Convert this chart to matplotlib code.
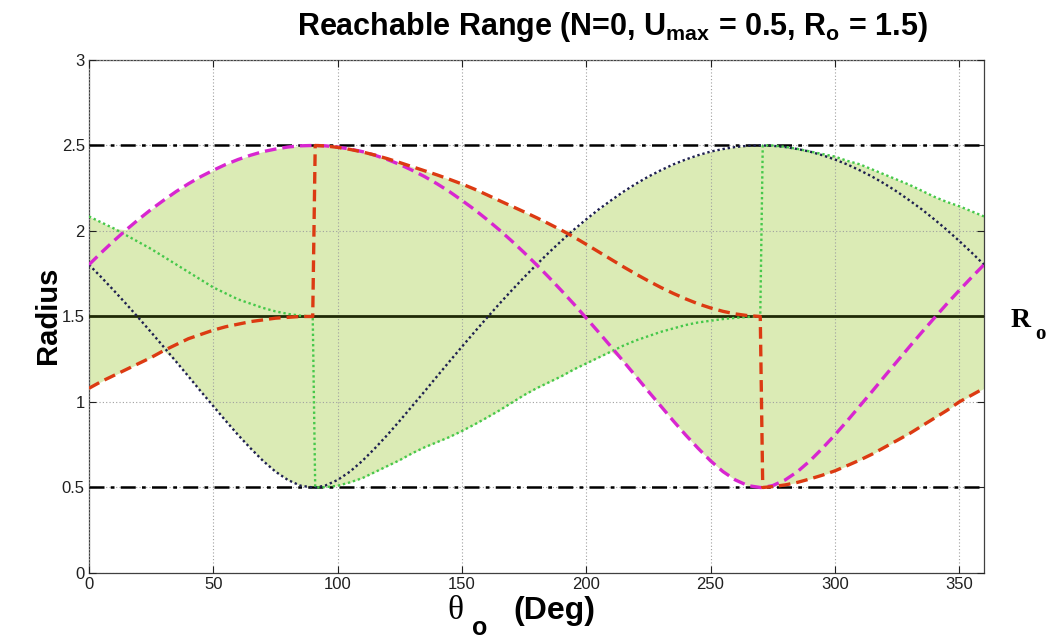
import numpy as np
import matplotlib
matplotlib.use("Agg")
import matplotlib.pyplot as plt

# ---------------- data ----------------
theta_deg = [0, 5, 10, 15, 20, 25, 30, 35, 40, 45, 50, 55, 60, 65, 70, 75, 80, 85, 90,
             91,
             95, 100, 105, 110, 115, 120, 125, 130, 135, 140, 145, 150, 155, 160, 165, 170, 175, 180,
             185, 190, 195, 200, 205, 210, 215, 220, 225, 230, 235, 240, 245, 250, 255, 260, 265, 270,
             271,
             275, 280, 285, 290, 295, 300, 305, 310, 315, 320, 325, 330, 335, 340, 345, 350, 355, 360]

magenta_r = [1.803, 1.874, 1.942, 2.007, 2.068, 2.126, 2.179, 2.230, 2.276, 2.318, 2.355, 2.389, 2.418, 2.443, 2.464, 2.479, 2.491, 2.498, 2.500,
             2.500,
             2.498, 2.491, 2.479, 2.464, 2.443, 2.418, 2.389, 2.355, 2.318, 2.276,
             2.230, 2.179, 2.126, 2.068, 2.007, 1.942, 1.874, 1.803, 1.729, 1.652,
             1.573, 1.491, 1.408, 1.323, 1.237, 1.150, 1.062, 0.976, 0.890, 0.807,
             0.729, 0.656, 0.593, 0.544, 0.511, 0.500,
             0.500,
             0.511, 0.544, 0.593, 0.656, 0.729, 0.807, 0.890, 0.976, 1.062,
             1.150, 1.237, 1.323, 1.408, 1.491, 1.573, 1.652, 1.729, 1.803]

blue_r = [1.803, 1.729, 1.652, 1.573, 1.491, 1.408, 1.323, 1.237, 1.150, 1.062, 0.976, 0.890, 0.807, 0.729, 0.656, 0.593, 0.544, 0.511, 0.500,
          0.500,
          0.511, 0.544, 0.593, 0.656, 0.729, 0.807, 0.890, 0.976, 1.062, 1.150,
          1.237, 1.323, 1.408, 1.491, 1.573, 1.652, 1.729, 1.803, 1.874, 1.942,
          2.007, 2.068, 2.126, 2.179, 2.230, 2.276, 2.318, 2.355, 2.389, 2.418,
          2.443, 2.464, 2.479, 2.491, 2.498, 2.500,
          2.500,
          2.498, 2.491, 2.479, 2.464, 2.443, 2.418, 2.389, 2.355, 2.318,
          2.276, 2.230, 2.179, 2.126, 2.068, 2.007, 1.942, 1.874, 1.803]

red_r = [1.08, 1.12, 1.155, 1.19, 1.225, 1.26, 1.30, 1.335, 1.37, 1.395, 1.42, 1.44, 1.455, 1.47, 1.48, 1.49, 1.495, 1.50, 1.50,
         2.50,
         2.497, 2.489, 2.477, 2.462, 2.444, 2.423, 2.40, 2.376, 2.352, 2.328,
         2.302, 2.275, 2.245, 2.212, 2.178, 2.145, 2.112, 2.078, 2.042, 2.005,
         1.965, 1.922, 1.878, 1.834, 1.79, 1.748, 1.708, 1.67, 1.635, 1.603,
         1.574, 1.55, 1.53, 1.515, 1.505, 1.50,
         0.50,
         0.505, 0.515, 0.53, 0.55, 0.572, 0.597, 0.628, 0.66, 0.695,
         0.735, 0.775, 0.815, 0.86, 0.905, 0.95, 1.0, 1.04, 1.08]

green_r = [2.085, 2.05, 2.015, 1.975, 1.935, 1.895, 1.85, 1.805, 1.76, 1.715, 1.67, 1.635, 1.60, 1.575, 1.55, 1.53, 1.515, 1.505, 1.50,
           0.50,
           0.502, 0.51, 0.53, 0.555, 0.59, 0.625, 0.66, 0.70, 0.735, 0.765,
           0.795, 0.83, 0.868, 0.908, 0.95, 0.995, 1.04, 1.08, 1.115, 1.15,
           1.19, 1.225, 1.26, 1.295, 1.33, 1.36, 1.385, 1.41, 1.43, 1.45,
           1.465, 1.475, 1.485, 1.492, 1.497, 1.50,
           2.50,
           2.50, 2.492, 2.48, 2.465, 2.45, 2.435, 2.41, 2.39, 2.36,
           2.33, 2.30, 2.27, 2.235, 2.20, 2.17, 2.145, 2.115, 2.085]

R_o = 1.5
R_max = 2.5
R_min = 0.5

x_ticks = [0, 50, 100, 150, 200, 250, 300, 350]
y_ticks = [0, 0.5, 1, 1.5, 2, 2.5, 3]
y_tick_labels = ["0", "0.5", "1", "1.5", "2", "2.5", "3"]

# ---------------- style ----------------
plt.rcParams["font.family"] = ["Liberation Sans", "DejaVu Sans"]
plt.rcParams["mathtext.fontset"] = "custom"
plt.rcParams["mathtext.rm"] = "Liberation Sans:bold"
plt.rcParams["mathtext.it"] = "Liberation Sans:bold"
plt.rcParams["mathtext.bf"] = "Liberation Sans:bold"
plt.rcParams["mathtext.sf"] = "Liberation Sans:bold"

fig = plt.figure(figsize=(10.59, 6.38), dpi=100)
ax = fig.add_axes([0.0840, 0.1019, 0.8452, 0.8041])

th = np.array(theta_deg)
curves = np.vstack([magenta_r, blue_r, red_r, green_r])
lo = curves.min(axis=0)
hi = curves.max(axis=0)
ax.fill_between(th, lo, hi, color="#dbebb5", lw=0, zorder=1)

# horizontal reference lines
ax.axhline(R_max, color="black", lw=1.8, ls=(0, (6, 2.5, 1.5, 2.5)), zorder=3)
ax.axhline(R_min, color="black", lw=1.8, ls=(0, (6, 2.5, 1.5, 2.5)), zorder=3)
ax.axhline(R_o, color="#1f2a05", lw=2.0, zorder=3)

ax.plot(th, blue_r, color="#1e2050", lw=1.7, ls=(0, (1.0, 1.2)), zorder=4)
ax.plot(th, green_r, color="#46c84a", lw=1.7, ls=(0, (1.0, 1.2)), zorder=4)
ax.plot(th, magenta_r, color="#d826d0", lw=2.4, ls=(0, (3.5, 1.8)), zorder=5)
ax.plot(th, red_r, color="#dc3a12", lw=2.4, ls=(0, (3.5, 1.8)), zorder=6)

ax.set_xlim(0, 360)
ax.set_ylim(0, 3)
ax.set_xticks(x_ticks)
ax.set_yticks(y_ticks)
ax.set_yticklabels(y_tick_labels)
ax.tick_params(direction="in", length=5, width=0.8, top=True, right=True,
               labelsize=12, colors="#202020", pad=3)
ax.grid(True, color="#a0a0a0", lw=0.8, ls=(0, (1, 2)), zorder=2)
ax.set_axisbelow(False)
for s in ax.spines.values():
    s.set_color("#404040")
    s.set_linewidth(0.9)

# title
fig.text(0.578, 0.958,
         "Reachable Range (N=0, U$_{\\mathrm{max}}$ = 0.5, R$_{\\mathrm{o}}$ = 1.5)",
         ha="center", va="center", fontsize=22, fontweight="bold")

# y label
fig.text(0.045, 0.505, "Radius", rotation=90, ha="center", va="center",
         fontsize=21, fontweight="bold")

# x label: theta_o (Deg)
fig.text(0.422, 0.043, "\u03b8", ha="left", va="center", fontsize=24,
         family=["Liberation Serif", "DejaVu Serif"])
fig.text(0.446, 0.016, "o", ha="left", va="center", fontsize=18, fontweight="bold")
fig.text(0.485, 0.043, "(Deg)", ha="left", va="center", fontsize=23, fontweight="bold")

# R_o label at right
fig.text(0.954, 0.498, "R", ha="left", va="center", fontsize=20, fontweight="bold",
         family=["Liberation Serif", "DejaVu Serif"])
fig.text(0.978, 0.476, "o", ha="left", va="center", fontsize=15, fontweight="bold",
         family=["Liberation Serif", "DejaVu Serif"])

fig.savefig("out.png", dpi=100)
